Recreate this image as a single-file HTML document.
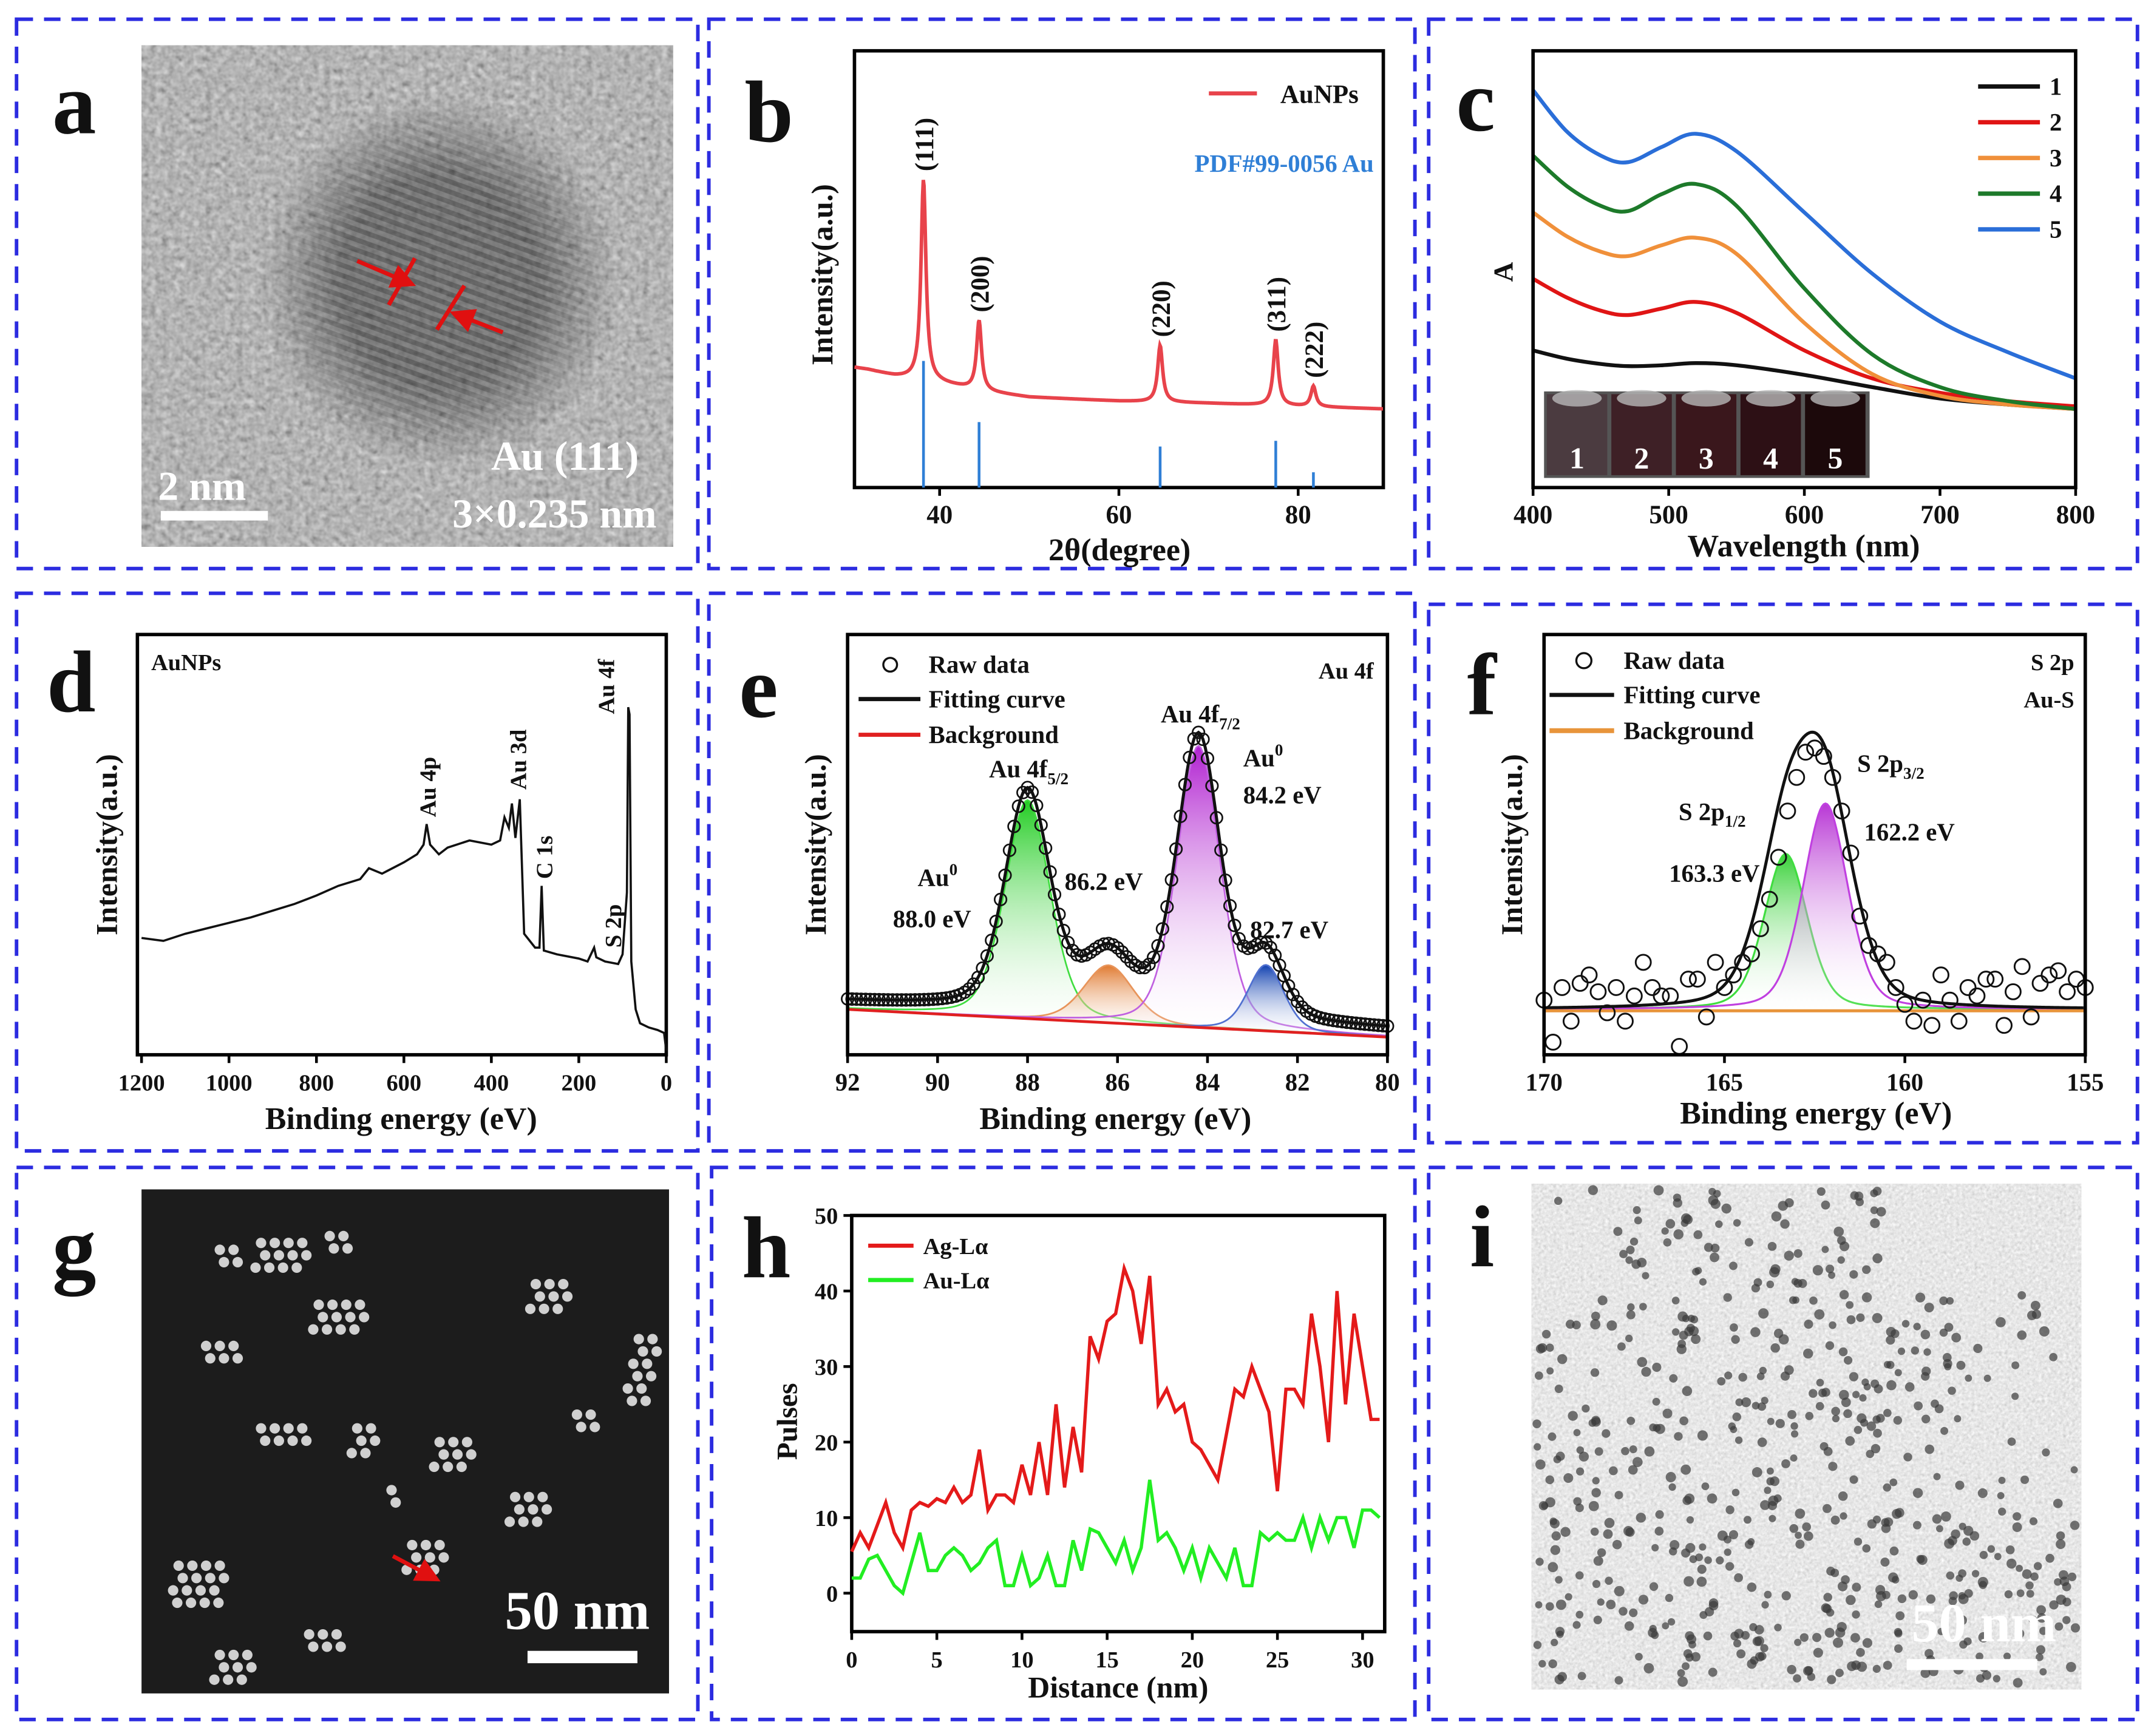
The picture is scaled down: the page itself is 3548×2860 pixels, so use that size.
<!DOCTYPE html>
<html><head><meta charset="utf-8">
<style>
html,body{margin:0;padding:0;background:#fff;}
svg{display:block;font-family:"Liberation Serif",serif;}
.t{font-family:"Liberation Serif",serif;font-weight:bold;fill:#111;}
</style></head>
<body>
<svg id="fig" xmlns="http://www.w3.org/2000/svg" width="3548" height="2860" viewBox="0 0 1568 1264">
<defs>
<filter id="noiseA" x="0" y="0" width="100%" height="100%">
<feTurbulence type="fractalNoise" baseFrequency="0.22" numOctaves="2" seed="3"/>
<feColorMatrix type="matrix" values="0.3 0.3 0.3 0 0.02  0.3 0.3 0.3 0 0.02  0.3 0.3 0.3 0 0.02  0 0 0 0 1"/>
</filter>
<filter id="noiseI" x="0" y="0" width="100%" height="100%">
<feTurbulence type="fractalNoise" baseFrequency="0.45" numOctaves="2" seed="7"/>
<feColorMatrix type="matrix" values="0.25 0.25 0.25 0 0.42  0.25 0.25 0.25 0 0.42  0.25 0.25 0.25 0 0.42  0 0 0 0 1"/>
</filter>
<pattern id="lattice" width="7" height="7" patternUnits="userSpaceOnUse" patternTransform="rotate(-70)">
<rect width="7" height="7" fill="#5a5a5a"/><rect width="3.5" height="7" fill="#2e2e2e"/>
</pattern>
<radialGradient id="latFade" cx="0.5" cy="0.5" r="0.5"><stop offset="0.55" stop-color="#fff" stop-opacity="0.6"/><stop offset="1" stop-color="#fff" stop-opacity="0"/></radialGradient>
<mask id="latMask"><ellipse cx="320" cy="205" rx="130" ry="135" fill="url(#latFade)"/></mask>
<linearGradient id="gGreen" x1="0" y1="0" x2="0" y2="1"><stop offset="0" stop-color="#22cc22"/><stop offset="1" stop-color="#fff" stop-opacity="0.1"/></linearGradient>
<linearGradient id="gPurple" x1="0" y1="0" x2="0" y2="1"><stop offset="0" stop-color="#b020d0"/><stop offset="1" stop-color="#fff" stop-opacity="0.1"/></linearGradient>
<linearGradient id="gOrange" x1="0" y1="0" x2="0" y2="1"><stop offset="0" stop-color="#e07a30"/><stop offset="1" stop-color="#fff" stop-opacity="0.1"/></linearGradient>
<linearGradient id="gBlue" x1="0" y1="0" x2="0" y2="1"><stop offset="0" stop-color="#1040b0"/><stop offset="1" stop-color="#fff" stop-opacity="0.1"/></linearGradient>
<marker id="arrR" markerWidth="6" markerHeight="6" refX="5" refY="3" orient="auto"><path d="M0,0 L6,3 L0,6z" fill="#e01010"/></marker>
</defs>

<g fill="none" stroke="#2c2ce0" stroke-width="2.6" stroke-dasharray="12,8">
<rect x="12" y="14" width="496" height="400"/>
<rect x="516" y="14" width="514" height="400"/>
<rect x="1040" y="14" width="516" height="400"/>
<rect x="12" y="432" width="496" height="406"/>
<rect x="516" y="432" width="514" height="406"/>
<rect x="1040" y="440" width="516" height="392"/>
<rect x="12" y="850" width="496" height="402"/>
<rect x="518" y="850" width="512" height="402"/>
<rect x="1040" y="850" width="516" height="402"/>
</g>

<g>
<rect x="103" y="33" width="387" height="365" fill="#777"/>
<rect x="103" y="33" width="387" height="365" filter="url(#noiseA)" opacity="0.95"/>
<rect x="103" y="33" width="387" height="365" fill="url(#lattice)" mask="url(#latMask)"/>
<line x1="260" y1="190" x2="300" y2="207" stroke="#e01010" stroke-width="3" marker-end="url(#arrR)"/>
<line x1="283" y1="222" x2="302" y2="188" stroke="#e01010" stroke-width="3"/>
<line x1="366" y1="242" x2="330" y2="228" stroke="#e01010" stroke-width="3" marker-end="url(#arrR)"/>
<line x1="318" y1="240" x2="338" y2="208" stroke="#e01010" stroke-width="3"/>
<text class="t" x="465" y="342" font-size="30" text-anchor="end" style="fill:#fff">Au (111)</text>
<text class="t" x="478" y="384" font-size="30" text-anchor="end" style="fill:#fff">3×0.235 nm</text>
<text class="t" x="115" y="364" font-size="30" style="fill:#fff">2 nm</text>
<rect x="117" y="372" width="78" height="7" fill="#fff"/>
</g>

<g id="gImg">
<rect x="103" y="866" width="384" height="367" fill="#1c1c1c"/>
</g>
<g>
<line x1="286" y1="1133" x2="318" y2="1150" stroke="#e01010" stroke-width="3" marker-end="url(#arrR)"/>
<text class="t" x="473" y="1186" font-size="40" text-anchor="end" style="fill:#fff">50 nm</text>
<rect x="384" y="1202" width="80" height="9" fill="#fff"/>
</g>

<g id="iImg">
<rect x="1115" y="862" width="400" height="368" fill="#b0b0b0"/>
<rect x="1115" y="862" width="400" height="368" filter="url(#noiseI)"/>
</g>
<g id="iAnn"></g>

<g font-size="64">
<text class="t" x="38" y="97">a</text>
<text class="t" x="542" y="103">b</text>
<text class="t" x="1060" y="95">c</text>
<text class="t" x="34" y="518">d</text>
<text class="t" x="538" y="522">e</text>
<text class="t" x="1068" y="520">f</text>
<text class="t" x="38" y="930">g</text>
<text class="t" x="540" y="930">h</text>
<text class="t" x="1070" y="922">i</text>
</g>
<g id="charts"></g>
</svg>

<script>
// ---------- data ----------
const xrdPeakPos = [38.2, 44.4, 64.6, 77.5, 81.7];
const xrdPeakH = [46, 16, 13, 15, 4.7];
const xrdPeakLabels = ["(111)", "(200)", "(220)", "(311)", "(222)"];
const xrdBgX = [30.5, 32, 35, 40, 45, 50, 60, 70, 80, 89.5];
const xrdBgY = [27.5, 27, 25.5, 24, 22, 20.7, 19.8, 19.3, 18.6, 18];
const xrdRefH = [29, 15, 9.4, 10.7, 3.5];
const xrdTicks = [40, 60, 80];

const uvWl = [400, 425, 450, 470, 495, 520, 550, 600, 650, 700, 750, 800];
const uv1 = [0.314, 0.295, 0.283, 0.278, 0.28, 0.285, 0.28, 0.258, 0.23, 0.204, 0.19, 0.18];
const uv2 = [0.478, 0.435, 0.405, 0.395, 0.41, 0.425, 0.40, 0.314, 0.25, 0.217, 0.198, 0.186];
const uv3 = [0.63, 0.575, 0.54, 0.53, 0.555, 0.572, 0.535, 0.377, 0.26, 0.21, 0.19, 0.18];
const uv4 = [0.76, 0.69, 0.645, 0.633, 0.672, 0.695, 0.645, 0.456, 0.305, 0.23, 0.198, 0.18];
const uv5 = [0.91, 0.815, 0.76, 0.745, 0.78, 0.81, 0.77, 0.63, 0.49, 0.38, 0.31, 0.25];
const uvNames = ["1", "2", "3", "4", "5"];
const uvTicks = [400, 500, 600, 700, 800];

const surE = [1200,1150,1100,1050,1000,950,900,850,800,750,700,680,650,600,570,555,548,540,520,500,450,400,380,370,360,353,345,335,325,300,290,285,280,250,200,180,165,160,140,110,100,90,87,84,80,70,60,40,20,5,0];
const surI = [27.8,27.1,28.8,30.1,31.4,32.7,34.3,35.9,37.9,40.2,41.8,44.4,43.1,45.8,47.7,50,54.9,50,47.7,49.3,51,50,51,56.5,54,59.8,51.6,60.8,28.8,25.5,25.5,40.2,24.8,23.9,22.9,22.2,25.5,23.2,22.2,21.6,23.9,38.6,82.7,81,22.2,10.8,7.5,6.5,5.9,5.2,1];
const surTicks = [1200, 1000, 800, 600, 400, 200, 0];

const eCenters = [88.0, 86.2, 84.2, 82.7];
const eHeights = [52, 13.7, 67, 15.7];
const eSigmas = [0.5, 0.55, 0.48, 0.4];
const eBgEnds = [10.8, 4.2];
const eTicks = [92, 90, 88, 86, 84, 82, 80];

const fCenters = [163.3, 162.2];
const fHeights = [37, 49];
const fSigmas = [0.6, 0.62];
const fBg = 10.8;
const fTicks = [170, 165, 160, 155];
const fRawE = [170,169.75,169.5,169.25,169,168.75,168.5,168.25,168,167.75,167.5,167.25,167,166.75,166.5,166.25,166,165.75,165.5,165.25,165,164.75,164.5,164.25,164,163.75,163.5,163.25,163,162.75,162.5,162.25,162,161.75,161.5,161.25,161,160.75,160.5,160.25,160,159.75,159.5,159.25,159,158.75,158.5,158.25,158,157.75,157.5,157.25,157,156.75,156.5,156.25,156,155.75,155.5,155.25,155];
const fRawI = [13,3,16,8,17,19,15,10,16,8,14,22,16,14,14,2,18,18,9,22,16,19,22,24,30,37,47,58,66,72,73,71,66,58,48,33,26,24,22,16,12,8,13,7,19,13,8,16,14,18,18,7,15,21,9,17,19,20,15,18,16];

const hDist = [];
for (let k = 0; k <= 62; k++) hDist.push(k * 0.5);
const hAg = [5.5,8,6,9,12,8,6,11,12,11.5,12.5,12,14,12,13,19,11,13,13,12,17,13,20,13,25,14,22,16,34,31,36,37,43,40,33,42,25,27,24,25,20,19,17,15,21,27,26,30,27,24,13.5,27,27,25,37,30,20,40,25,37,30,23,23];
const hAu = [2,2,4.5,5,3,1,0,4,8,3,3,5,6,5,3,4,6,7,1,1,5,1,2,5,1,1,7,3,8.5,8,6,4,7,3,6,15,7,8,6,3,6,2,6,4,2,6,1,1,8,7,8,7,7,10,6,10,7,10,10,6,11,11,10];
const hXTicks = [0, 5, 10, 15, 20, 25, 30];
const hYTicks = [0, 10, 20, 30, 40, 50];

// ---------- helpers ----------
const NS = "http://www.w3.org/2000/svg";
const root = document.getElementById("charts");
function mk(parent, tag, attrs, name, inter) {
  const el = document.createElementNS(NS, tag);
  for (const k in attrs) el.setAttribute(k, attrs[k]);
  
  
  parent.appendChild(el);
  return el;
}
function txt(parent, x, y, s, size, name, extra) {
  const a = Object.assign({x: x, y: y, "font-size": size, "class": "t"}, extra || {});
  const el = mk(parent, "text", a, name, false);
  el.textContent = s;
  return el;
}
function lin(d0, d1, r0, r1) { return v => r0 + (v - d0) * (r1 - r0) / (d1 - d0); }
function smooth(pts) {
  let d = "M" + pts[0][0] + "," + pts[0][1];
  for (let i = 0; i < pts.length - 1; i++) {
    const p0 = pts[i - 1] || pts[i], p1 = pts[i], p2 = pts[i + 1], p3 = pts[i + 2] || p2;
    const c1 = [p1[0] + (p2[0] - p0[0]) / 6, p1[1] + (p2[1] - p0[1]) / 6];
    const c2 = [p2[0] - (p3[0] - p1[0]) / 6, p2[1] - (p3[1] - p1[1]) / 6];
    d += "C" + c1 + " " + c2 + " " + p2;
  }
  return d;
}
function poly(pts) { return "M" + pts.map(p => p[0].toFixed(2) + "," + p[1].toFixed(2)).join("L"); }
function interp(xs, ys, x) {
  if ((xs[1] - xs[0]) < 0) { xs = xs.slice().reverse(); ys = ys.slice().reverse(); }
  if (x <= xs[0]) return ys[0];
  for (let i = 0; i < xs.length - 1; i++) if (x <= xs[i + 1]) return ys[i] + (ys[i + 1] - ys[i]) * (x - xs[i]) / (xs[i + 1] - xs[i]);
  return ys[ys.length - 1];
}
function pv(x, c, h, s) { const g = Math.exp(-((x - c) ** 2) / (2 * s * s)); const l = 1 / (1 + ((x - c) / (1.18 * s)) ** 2); return h * (0.7 * g + 0.3 * l); }
function frame(g, x0, y0, x1, y1, name) {
  mk(g, "rect", {x: x0, y: y0, width: x1 - x0, height: y1 - y0, fill: "none", stroke: "#000", "stroke-width": 2.5}, name, false);
}
function xTicks(g, ticks, sx, y, size, name) {
  ticks.forEach(t => {
    mk(g, "line", {x1: sx(t), x2: sx(t), y1: y, y2: y + 6, stroke: "#000", "stroke-width": 2}, name + "-tick", false);
    txt(g, sx(t), y + 26, String(t), size, name + "-label", {"text-anchor": "middle"});
  });
}

// ---------- panel b ----------
(function () {
  const g = mk(root, "g", {}, "panel-b-xrd-chart", false);
  const sx = lin(30.5, 89.5, 622, 1007), sy = lin(0, 100, 355, 37);
  frame(g, 622, 37, 1007, 355, "xrd-plot-frame");
  const pts = [];
  for (let x = 30.5; x <= 89.5; x += 0.08) {
    let v = interp(xrdBgX, xrdBgY, x);
    xrdPeakPos.forEach((c, i) => { v += xrdPeakH[i] / (1 + ((x - c) / 0.33) ** 2); });
    pts.push([sx(x), sy(v)]);
  }
  mk(g, "path", {d: poly(pts), fill: "none", stroke: "#e8434b", "stroke-width": 2.6}, "xrd-aunps-line", false);
  xrdPeakPos.forEach((c, i) => {
    mk(g, "line", {x1: sx(c), x2: sx(c), y1: sy(0), y2: sy(xrdRefH[i]), stroke: "#2f7fd6", "stroke-width": 2}, "xrd-reference-stick", false);
    const top = sy(interp(xrdBgX, xrdBgY, c) + xrdPeakH[i]);
    txt(g, 0, 0, xrdPeakLabels[i], 19, "xrd-peak-label", {"text-anchor": "start", transform: "translate(" + (sx(c) + 7) + "," + (top - 6) + ") rotate(-90)"});
  });
  xTicks(g, xrdTicks, sx, 355, 19, "xrd-x-axis");
  txt(g, 815, 408, "2θ(degree)", 23, "xrd-x-axis-title", {"text-anchor": "middle"});
  txt(g, 0, 0, "Intensity(a.u.)", 22, "xrd-y-axis-title", {"text-anchor": "middle", transform: "translate(606,200) rotate(-90)"});
  mk(g, "line", {x1: 880, x2: 915, y1: 68, y2: 68, stroke: "#e8434b", "stroke-width": 3}, "xrd-legend-line", false);
  txt(g, 932, 75, "AuNPs", 19, "xrd-legend-label");
  txt(g, 1000, 125, "PDF#99-0056 Au", 18, "xrd-reference-label", {"text-anchor": "end", style: "fill:#2f7fd6"});
})();

// ---------- panel c ----------
(function () {
  const g = mk(root, "g", {}, "panel-c-uvvis-chart", false);
  const sx = lin(400, 800, 1116, 1511), sy = lin(0, 1, 355, 37);
  const cols = ["#111111", "#e01515", "#f0903a", "#1d7a2a", "#2a6ed8"];
  const series = [uv1, uv2, uv3, uv4, uv5];
  const vcol = ["#4b3b40", "#3e2026", "#3a171c", "#2d1015", "#1c090b"];
  mk(g, "rect", {x: 1124, y: 285, width: 237, height: 63, fill: "#555"}, "vial-photo-inset", false);
  vcol.forEach((c, i) => {
    const x = 1126 + i * 47;
    mk(g, "rect", {x: x, y: 287, width: 44, height: 59, fill: c}, "vial", false);
    mk(g, "ellipse", {cx: x + 22, cy: 290, rx: 18, ry: 6, fill: "#b8b8b8", opacity: 0.8}, "vial-meniscus", false);
    txt(g, x + 22, 341, uvNames[i], 22, "vial-number", {"text-anchor": "middle", style: "fill:#fff"});
  });
  series.forEach((s, i) => {
    mk(g, "path", {d: smooth(uvWl.map((w, k) => [sx(w), sy(s[k])])), fill: "none", stroke: cols[i], "stroke-width": 2.8}, "uv-line-" + uvNames[i], false);
    mk(g, "line", {x1: 1440, x2: 1485, y1: 63 + i * 26, y2: 63 + i * 26, stroke: cols[i], "stroke-width": 3.2}, "uv-legend-line", false);
    txt(g, 1492, 69 + i * 26, uvNames[i], 18, "uv-legend-label");
  });
  frame(g, 1116, 37, 1511, 355, "uv-plot-frame");
  xTicks(g, uvTicks, sx, 355, 19, "uv-x-axis");
  txt(g, 1313, 405, "Wavelength (nm)", 23, "uv-x-axis-title", {"text-anchor": "middle"});
  txt(g, 0, 0, "A", 20, "uv-y-axis-title", {"text-anchor": "middle", transform: "translate(1101,198) rotate(-90)"});
})();

// ---------- panel d ----------
(function () {
  const g = mk(root, "g", {}, "panel-d-xps-survey-chart", false);
  const sx = lin(1200, 0, 103, 485), sy = lin(0, 100, 768, 462);
  frame(g, 100, 462, 485, 768, "survey-plot-frame");
  mk(g, "path", {d: poly(surE.map((e, i) => [sx(e), sy(surI[i])])), fill: "none", stroke: "#111", "stroke-width": 1.6}, "survey-line", false);
  xTicks(g, surTicks, sx, 768, 17, "survey-x-axis");
  txt(g, 292, 822, "Binding energy (eV)", 23, "survey-x-axis-title", {"text-anchor": "middle"});
  txt(g, 0, 0, "Intensity(a.u.)", 22, "survey-y-axis-title", {"text-anchor": "middle", transform: "translate(85,615) rotate(-90)"});
  txt(g, 110, 488, "AuNPs", 17, "survey-sample-label");
  const lab = [["Au 4p", 317, 595], ["Au 3d", 383, 575], ["C 1s", 402, 640], ["S 2p", 452, 690], ["Au 4f", 447, 520]];
  lab.forEach(l => txt(g, 0, 0, l[0], 17, "survey-peak-label", {"text-anchor": "start", transform: "translate(" + l[1] + "," + l[2] + ") rotate(-90)"}));
})();

// ---------- panel e ----------
(function () {
  const g = mk(root, "g", {}, "panel-e-au4f-chart", false);
  const sx = lin(92, 80, 617, 1010), sy = lin(0, 100, 768, 462);
  const bg = x => eBgEnds[0] + (eBgEnds[1] - eBgEnds[0]) * (92 - x) / 12;
  const fills = ["url(#gGreen)", "url(#gOrange)", "url(#gPurple)", "url(#gBlue)"];
  const strokes = ["#40dd40", "#e8945a", "#c060e0", "#5070d0"];
  eCenters.forEach((c, i) => {
    const pts = [];
    for (let x = 92; x >= 80; x -= 0.05) pts.push([sx(x), sy(bg(x) + pv(x, c, eHeights[i], eSigmas[i]))]);
    const base = [];
    for (let x = 80; x <= 92; x += 0.5) base.push([sx(x), sy(bg(x))]);
    mk(g, "path", {d: poly(pts.concat(base)) + "Z", fill: fills[i], stroke: "none"}, "au4f-component-fill", false);
    mk(g, "path", {d: poly(pts), fill: "none", stroke: strokes[i], "stroke-width": 1.2}, "au4f-component-line", false);
  });
  mk(g, "line", {x1: sx(92), x2: sx(80), y1: sy(bg(92)), y2: sy(bg(80)), stroke: "#e02020", "stroke-width": 2}, "au4f-background-line", false);
  const fit = x => bg(x) + eCenters.reduce((a, c, i) => a + pv(x, c, eHeights[i], eSigmas[i]), 0) + 2;
  const fp = [];
  for (let x = 92; x >= 80; x -= 0.05) fp.push([sx(x), sy(fit(x))]);
  mk(g, "path", {d: poly(fp), fill: "none", stroke: "#111", "stroke-width": 2.2}, "au4f-fitting-curve", false);
  for (let x = 92; x >= 80; x -= 0.1) mk(g, "circle", {cx: sx(x), cy: sy(fit(x)), r: 4.3, fill: "none", stroke: "#111", "stroke-width": 1.2}, "au4f-raw-point", false);
  frame(g, 617, 462, 1010, 768, "au4f-plot-frame");
  xTicks(g, eTicks, sx, 768, 18, "au4f-x-axis");
  txt(g, 812, 822, "Binding energy (eV)", 23, "au4f-x-axis-title", {"text-anchor": "middle"});
  txt(g, 0, 0, "Intensity(a.u.)", 22, "au4f-y-axis-title", {"text-anchor": "middle", transform: "translate(601,615) rotate(-90)"});
  mk(g, "circle", {cx: 648, cy: 484, r: 5, fill: "none", stroke: "#111", "stroke-width": 1.5}, "legend-raw-marker", false);
  txt(g, 676, 490, "Raw data", 18, "legend-raw-label");
  mk(g, "line", {x1: 625, x2: 670, y1: 509, y2: 509, stroke: "#111", "stroke-width": 3}, "legend-fit-line", false);
  txt(g, 676, 515, "Fitting curve", 18, "legend-fit-label");
  mk(g, "line", {x1: 625, x2: 670, y1: 535, y2: 535, stroke: "#e02020", "stroke-width": 3}, "legend-bg-line", false);
  txt(g, 676, 541, "Background", 18, "legend-bg-label");
  txt(g, 1000, 494, "Au 4f", 17, "au4f-title", {"text-anchor": "end"});
  const t1 = txt(g, 720, 566, "Au 4f", 18, "peak-label-4f52");
  const s1 = mk(t1, "tspan", {dy: 5, "font-size": 12}, "subscript", false); s1.textContent = "5/2";
  const t2 = txt(g, 845, 526, "Au 4f", 18, "peak-label-4f72");
  const s2 = mk(t2, "tspan", {dy: 5, "font-size": 12}, "subscript", false); s2.textContent = "7/2";
  const a1 = txt(g, 668, 645, "Au", 18, "au0-label"); const u1 = mk(a1, "tspan", {dy: -8, "font-size": 12}, "superscript", false); u1.textContent = "0";
  const a2 = txt(g, 905, 558, "Au", 18, "au0-label"); const u2 = mk(a2, "tspan", {dy: -8, "font-size": 12}, "superscript", false); u2.textContent = "0";
  txt(g, 650, 675, "88.0 eV", 18, "energy-label");
  txt(g, 775, 648, "86.2 eV", 18, "energy-label");
  txt(g, 905, 585, "84.2 eV", 18, "energy-label");
  txt(g, 910, 683, "82.7 eV", 18, "energy-label");
})();

// ---------- panel f ----------
(function () {
  const g = mk(root, "g", {}, "panel-f-s2p-chart", false);
  const sx = lin(170, 155, 1124, 1518), sy = lin(0, 100, 768, 462);
  const fills = ["url(#gGreen)", "url(#gPurple)"];
  const strokes = ["#40dd40", "#c040e0"];
  fCenters.forEach((c, i) => {
    const pts = [];
    for (let x = 170; x >= 155; x -= 0.05) pts.push([sx(x), sy(fBg + pv(x, c, fHeights[i], fSigmas[i]))]);
    mk(g, "path", {d: poly(pts) + "L" + sx(155) + "," + sy(fBg) + "L" + sx(170) + "," + sy(fBg) + "Z", fill: fills[i], stroke: "none", opacity: 0.9}, "s2p-component-fill", false);
    mk(g, "path", {d: poly(pts), fill: "none", stroke: strokes[i], "stroke-width": 1.4}, "s2p-component-line", false);
  });
  const fit = x => fBg + fCenters.reduce((a, c, i) => a + pv(x, c, fHeights[i], fSigmas[i] * 1.25), 0);
  const fp = [];
  for (let x = 170; x >= 155; x -= 0.05) fp.push([sx(x), sy(fit(x))]);
  mk(g, "path", {d: poly(fp), fill: "none", stroke: "#111", "stroke-width": 2.2}, "s2p-fitting-curve", false);
  mk(g, "line", {x1: sx(170), x2: sx(155), y1: sy(fBg) + 1, y2: sy(fBg) + 1, stroke: "#e8943a", "stroke-width": 2.2}, "s2p-background-line", false);
  fRawE.forEach((e, i) => mk(g, "circle", {cx: sx(e), cy: sy(fRawI[i]), r: 5.5, fill: "none", stroke: "#111", "stroke-width": 1.3}, "s2p-raw-point", false));
  frame(g, 1124, 462, 1518, 768, "s2p-plot-frame");
  xTicks(g, fTicks, sx, 768, 18, "s2p-x-axis");
  txt(g, 1322, 818, "Binding energy (eV)", 23, "s2p-x-axis-title", {"text-anchor": "middle"});
  txt(g, 0, 0, "Intensity(a.u.)", 22, "s2p-y-axis-title", {"text-anchor": "middle", transform: "translate(1108,615) rotate(-90)"});
  mk(g, "circle", {cx: 1153, cy: 481, r: 5.5, fill: "none", stroke: "#111", "stroke-width": 1.5}, "legend-raw-marker", false);
  txt(g, 1182, 487, "Raw data", 18, "legend-raw-label");
  mk(g, "line", {x1: 1128, x2: 1175, y1: 506, y2: 506, stroke: "#111", "stroke-width": 3}, "legend-fit-line", false);
  txt(g, 1182, 512, "Fitting curve", 18, "legend-fit-label");
  mk(g, "line", {x1: 1128, x2: 1175, y1: 532, y2: 532, stroke: "#e8943a", "stroke-width": 3.5}, "legend-bg-line", false);
  txt(g, 1182, 538, "Background", 18, "legend-bg-label");
  txt(g, 1510, 488, "S 2p", 17, "s2p-title", {"text-anchor": "end"});
  txt(g, 1510, 515, "Au-S", 17, "s2p-subtitle", {"text-anchor": "end"});
  const t1 = txt(g, 1352, 562, "S 2p", 18, "peak-label-2p32"); const a = mk(t1, "tspan", {dy: 5, "font-size": 12}, "subscript", false); a.textContent = "3/2";
  const t2 = txt(g, 1222, 597, "S 2p", 18, "peak-label-2p12"); const b = mk(t2, "tspan", {dy: 5, "font-size": 12}, "subscript", false); b.textContent = "1/2";
  txt(g, 1357, 612, "162.2 eV", 18, "energy-label");
  txt(g, 1215, 642, "163.3 eV", 18, "energy-label");
})();

// ---------- panel h ----------
(function () {
  const g = mk(root, "g", {}, "panel-h-linescan-chart", false);
  const sx = lin(0, 31.3, 620, 1008), sy = lin(0, 50, 1160, 885);
  frame(g, 620, 885, 1008, 1188, "linescan-plot-frame");
  mk(g, "path", {d: poly(hDist.map((d, i) => [sx(d), sy(hAu[i])])), fill: "none", stroke: "#22ee22", "stroke-width": 2.4}, "au-la-line", false);
  mk(g, "path", {d: poly(hDist.map((d, i) => [sx(d), sy(hAg[i])])), fill: "none", stroke: "#e41a1a", "stroke-width": 2.4}, "ag-la-line", false);
  xTicks(g, hXTicks, sx, 1188, 17, "linescan-x-axis");
  hYTicks.forEach(t => {
    mk(g, "line", {x1: 614, x2: 620, y1: sy(t), y2: sy(t), stroke: "#000", "stroke-width": 2}, "linescan-y-tick", false);
    txt(g, 610, sy(t) + 6, String(t), 17, "linescan-y-label", {"text-anchor": "end"});
  });
  txt(g, 814, 1236, "Distance (nm)", 22, "linescan-x-axis-title", {"text-anchor": "middle"});
  txt(g, 0, 0, "Pulses", 21, "linescan-y-axis-title", {"text-anchor": "middle", transform: "translate(580,1035) rotate(-90)"});
  mk(g, "line", {x1: 632, x2: 665, y1: 907, y2: 907, stroke: "#e41a1a", "stroke-width": 3}, "legend-ag-line", false);
  txt(g, 672, 913, "Ag-Lα", 17, "legend-ag-label");
  mk(g, "line", {x1: 632, x2: 665, y1: 932, y2: 932, stroke: "#22ee22", "stroke-width": 3}, "legend-au-line", false);
  txt(g, 672, 938, "Au-Lα", 17, "legend-au-label");
})();

// ---------- image textures (not chart data) ----------
(function () {
  const g = document.getElementById("gImg");
  const clusters = [[190,905,4,3],[232,950,4,3],[150,980,3,2],[190,1040,4,2],[260,1040,2,3],[320,1050,3,3],[390,935,3,3],[465,975,2,6],[375,1090,3,3],[420,1030,2,2],[130,1140,4,4],[160,1205,3,3],[225,1190,3,2],[300,1125,3,3],[285,1085,1,2],[240,900,2,2],[160,910,2,2]];
  clusters.forEach(c => {
    for (let r = 0; r < c[3]; r++) for (let q = 0; q < c[2]; q++) {
      const x = c[0] + q * 10 + (r % 2) * 5 - r * 2, y = c[1] + r * 9;
      if (x < 484 && y < 1230) {
        mk(g, "circle", {cx: x, cy: y, r: 3.8, fill: "#d0d0d0"}, "nanoparticle", false);
      }
    }
  });
  const gi = document.getElementById("iImg");
  let s = 12345;
  const rnd = () => { s = (s * 1103515245 + 12345) % 2147483648; return s / 2147483648; };
  for (let k = 0; k < 700; k++) {
    const x = 1118 + rnd() * 394, y = 866 + rnd() * 360;
    if (y < 940 && x > 1370) continue;
    if (x > 1420 && y < 1080 && rnd() < 0.7) continue;
    if (x < 1170 && y < 960 && rnd() < 0.6) continue;
    mk(gi, "circle", {cx: x, cy: y, r: 2.6 + rnd() * 1.2, fill: "#3a3a3a", opacity: 0.7}, "nanoparticle", false);
  }
  const ia = document.getElementById("iAnn");
  const t = mk(ia, "text", {x: 1497, y: 1195, "font-size": 40, "text-anchor": "end", "class": "t", style: "fill:#fff"}, "scale-bar-label", false);
  t.textContent = "50 nm";
  mk(ia, "rect", {x: 1388, y: 1208, width: 95, height: 8, fill: "#fff"}, "scale-bar", false);
})();
</script>
</body></html>
